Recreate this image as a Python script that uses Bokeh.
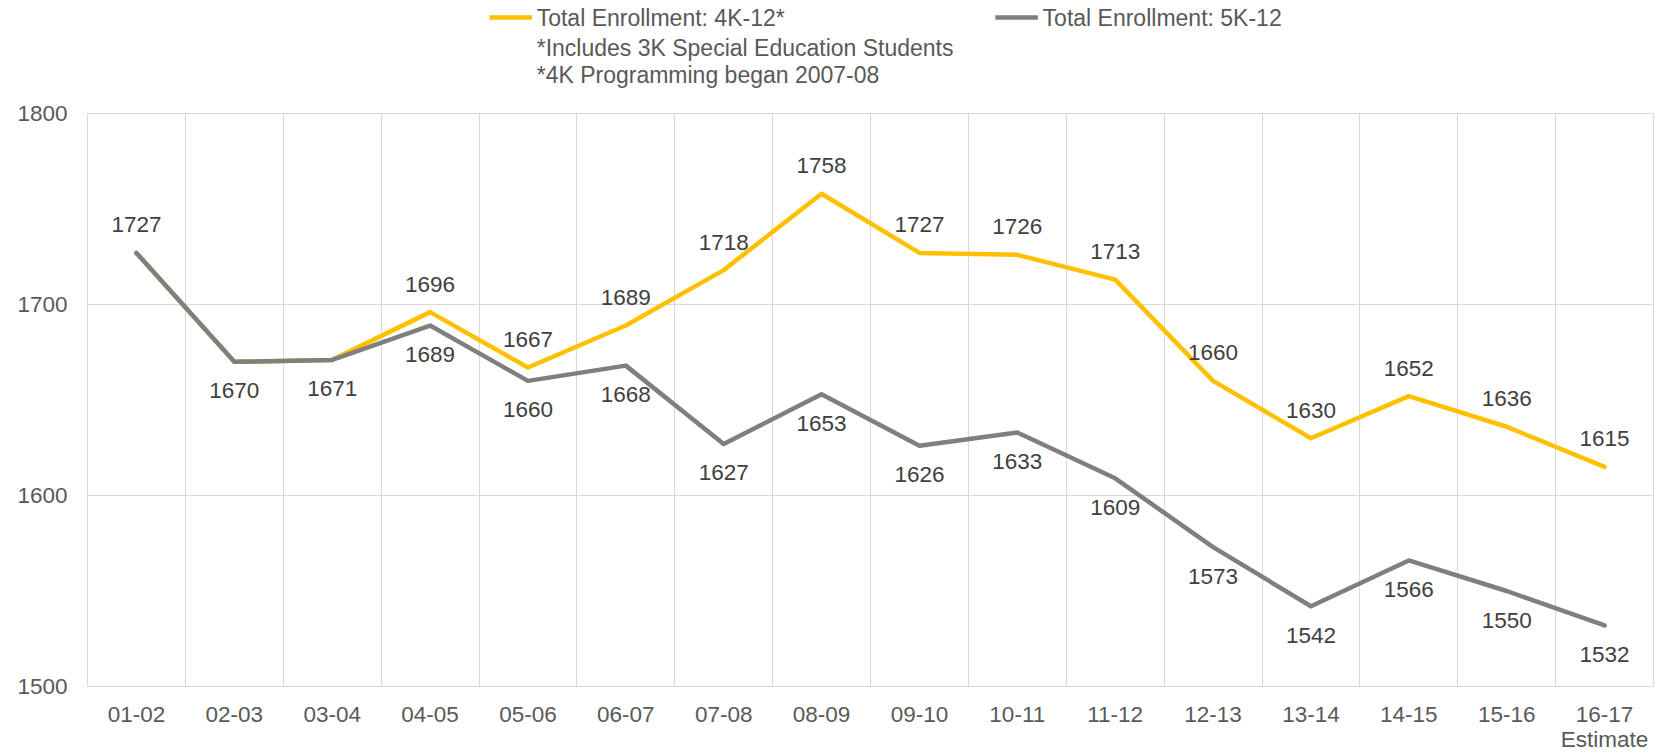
from bokeh.plotting import figure
from bokeh.layouts import column
from bokeh.models import Range1d, FixedTicker, ColumnDataSource
from bokeh.embed import file_html
from bokeh.resources import INLINE
from bokeh.core.properties import value

categories = ["01-02", "02-03", "03-04", "04-05", "05-06", "06-07", "07-08", "08-09",
              "09-10", "10-11", "11-12", "12-13", "13-14", "14-15", "15-16", "16-17\nEstimate"]
enroll_4k12 = [1727, 1670, 1671, 1696, 1667, 1689, 1718, 1758,
               1727, 1726, 1713, 1660, 1630, 1652, 1636, 1615]
enroll_5k12 = [1727, 1670, 1671, 1689, 1660, 1668, 1627, 1653,
               1626, 1633, 1609, 1573, 1542, 1566, 1550, 1532]
y_ticks = [1500, 1600, 1700, 1800]
series_names = ["Total Enrollment: 4K-12*", "Total Enrollment: 5K-12"]
footnotes = ["*Includes 3K Special Education Students", "*4K Programming began 2007-08"]

YELLOW = "#FFC000"
GRAY = "#7F7F7F"
GRID = "#D9D9D9"
LABEL_C = "#404040"
AXIS_C = "#595959"
FONT = "Liberation Sans"
W = 1656
HEAD_H = 100

# ---------- header (legend + notes) ----------
h = figure(width=W, height=HEAD_H, output_backend="svg", toolbar_location=None,
           x_range=Range1d(0, W), y_range=Range1d(HEAD_H, 0),
           min_border=0, min_border_left=0, min_border_right=0, min_border_top=0, min_border_bottom=0)
h.axis.visible = False
h.grid.visible = False
h.outline_line_color = None
h.background_fill_color = "white"
h.border_fill_color = "white"

leg_x0 = [425, 960]
leg_y = 17
for x0, col, name in zip(leg_x0, (YELLOW, GRAY), series_names):
    h.segment(x0=[x0], y0=[leg_y], x1=[x0 + 45], y1=[leg_y], line_color=col, line_width=4.5)
    h.text(x=[x0 + 50], y=[leg_y], text=[name], text_align="left", text_baseline="middle",
           text_font=value(FONT), text_font_size="23px", text_color=AXIS_C)
h.text(x=[475] * len(footnotes), y=[47 + 27 * k for k in range(len(footnotes))], text=footnotes,
       text_align="left", text_baseline="middle",
       text_font=value(FONT), text_font_size="23px", text_color=AXIS_C)

# ---------- main chart ----------
xs = list(range(len(categories)))

p = figure(width=W, height=754 - HEAD_H, output_backend="svg", toolbar_location=None,
           x_range=Range1d(-0.5, len(categories) - 0.5), y_range=Range1d(y_ticks[0], y_ticks[-1]),
           min_border_left=87, min_border_right=3, min_border_top=13, min_border_bottom=66)
p.background_fill_color = "white"
p.border_fill_color = "white"
p.outline_line_color = GRID
p.outline_line_width = 1

p.xgrid.ticker = FixedTicker(ticks=[i - 0.5 for i in range(len(categories) + 1)])
p.xgrid.grid_line_color = GRID
p.ygrid.ticker = FixedTicker(ticks=y_ticks)
p.ygrid.grid_line_color = GRID

p.xaxis.ticker = FixedTicker(ticks=xs)
p.xaxis.major_label_overrides = {i: c for i, c in enumerate(categories)}
p.yaxis.ticker = FixedTicker(ticks=y_ticks)
for ax in (p.xaxis, p.yaxis):
    ax.axis_line_color = None
    ax.major_tick_line_color = None
    ax.minor_tick_line_color = None
    ax.major_tick_out = 0
    ax.major_tick_in = 0
    ax.major_label_text_font = FONT
    ax.major_label_text_font_size = "22.5px"
    ax.major_label_text_color = AXIS_C
p.xaxis.major_label_standoff = 15
p.xaxis.major_label_text_line_height = 1.0
p.yaxis.major_label_standoff = 20

src = ColumnDataSource(dict(x=xs, a=enroll_4k12, b=enroll_5k12))
r_a = p.line("x", "a", source=src, line_color=YELLOW, line_width=4.5, line_join="round", line_cap="round")
r_b = p.line("x", "b", source=src, line_color=GRAY, line_width=4.5, line_join="round", line_cap="round")

# data labels
ia = [i for i in xs if i == 0 or enroll_4k12[i] != enroll_5k12[i]]
ib = [i for i in xs if i >= 1]
src_la = ColumnDataSource(dict(x=ia, y=[enroll_4k12[i] for i in ia], t=[str(enroll_4k12[i]) for i in ia]))
src_lb = ColumnDataSource(dict(x=ib, y=[enroll_5k12[i] for i in ib], t=[str(enroll_5k12[i]) for i in ib]))
for s, off in ((src_la, -28), (src_lb, 29)):
    p.text("x", "y", text="t", source=s, y_offset=off, text_align="center", text_baseline="middle",
           text_font=value(FONT), text_font_size="22.5px", text_color=LABEL_C)

layout = column(h, p, spacing=0)
open("out.html", "w").write(file_html(layout, INLINE))
